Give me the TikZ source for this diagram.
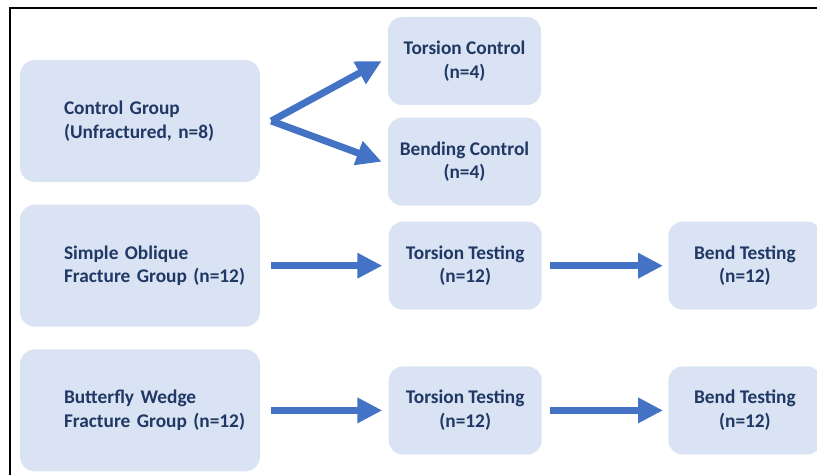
\documentclass[tikz,border=0pt]{standalone}
\usepackage{fontspec}
\setmainfont{Carlito}
\usetikzlibrary{positioning,arrows.meta}
\definecolor{boxfill}{HTML}{DAE3F3}
\definecolor{boxtext}{HTML}{1F3864}
\definecolor{flowblue}{HTML}{4472C4}

\begin{document}
\begin{tikzpicture}[
  groupbox/.style={fill=boxfill, rounded corners=0.3cm, text width=3.04cm, inner xsep=0.88cm, minimum height=2.44cm, align=left, text=boxtext, font=\fontsize{11}{13.4}\selectfont\bfseries},
  testbox/.style={fill=boxfill, rounded corners=0.28cm, minimum width=3.06cm, minimum height=1.76cm, align=center, text=boxtext, font=\fontsize{11}{13.4}\selectfont\bfseries},
  flow/.style={-{Triangle[length=0.5cm, width=0.48cm]}, line width=0.14cm, flowblue}
]
\useasboundingbox (0,0) rectangle (16.34,-9.5);
\draw[line width=0.04cm] (0.206,-9.5) -- (0.206,-0.154) -- (16.34,-0.154);

\node[groupbox] (ctrl) at (2.8,-2.42) {Control~Group\\(Unfractured,~n=8)};
\node[groupbox, below=0.44cm of ctrl] (simple) {Simple~Oblique\\Fracture~Group~(n=12)};
\node[groupbox, below=0.44cm of simple] (butter) {Butterfly~Wedge\\Fracture~Group~(n=12)};

\node[testbox] (tc) at (9.29,-1.22) {Torsion Control\\(n=4)};
\node[testbox, below=0.24cm of tc] (bc) {Bending Control\\(n=4)};
\node[testbox, right=2.56cm of simple] (tt1) {Torsion Testing\\(n=12)};
\node[testbox, right=2.52cm of tt1] (bt1) {Bend Testing\\(n=12)};
\node[testbox, right=2.56cm of butter] (tt2) {Torsion Testing\\(n=12)};
\node[testbox, right=2.52cm of tt2] (bt2) {Bend Testing\\(n=12)};

\coordinate (split) at ([xshift=0.22cm]ctrl.east);
\draw[flow] (split) -- ([xshift=-0.12cm]tc.west);
\draw[flow] (split) -- ([xshift=-0.12cm]bc.west);
\draw[flow] ([xshift=0.22cm]simple.east) -- ([xshift=-0.12cm]tt1.west);
\draw[flow] ([xshift=0.16cm]tt1.east) -- ([xshift=-0.1cm]bt1.west);
\draw[flow] ([xshift=0.22cm]butter.east) -- ([xshift=-0.12cm]tt2.west);
\draw[flow] ([xshift=0.16cm]tt2.east) -- ([xshift=-0.1cm]bt2.west);
\end{tikzpicture}
\end{document}
